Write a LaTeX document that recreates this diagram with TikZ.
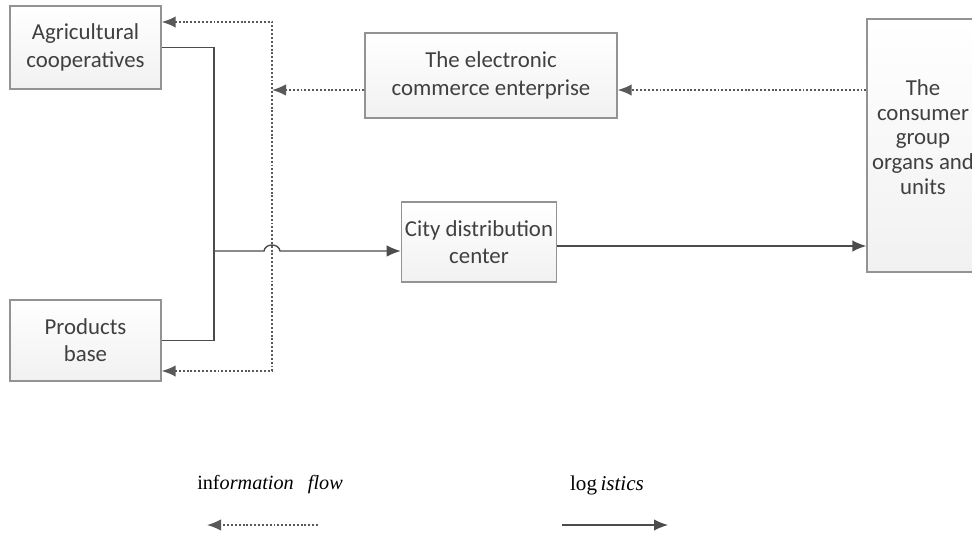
\documentclass[tikz,border=0pt]{standalone}
\usepackage{fontspec}
\setmainfont{Carlito}
\newfontfamily\legendfont{Liberation Serif}
\usepackage{tikz}
\usetikzlibrary{arrows.meta}
\tikzset{box node/.style={draw=gray!85,line width=0.8pt,top color=white,bottom color=gray!11,
            text=black!75,align=center,inner sep=2pt,font=\fontsize{13}{15.5}\selectfont},
         logi/.style={draw=black!70,line width=0.8pt,-{Latex[length=2.8mm,width=2.3mm]}},
         info/.style={draw=black!65,line width=0.9pt,dash pattern=on 1.1pt off 1.1pt,-{Latex[length=2.8mm,width=2.3mm]}},
            }

\begin{document}
\begin{tikzpicture}[x=0.02cm,y=-0.02cm]
    \useasboundingbox (0,0) rectangle (972,535);
    \node[box node,minimum width=3.02cm,minimum height=1.66cm] (agri) at (85.5,47.5) {Agricultural\\cooperatives};
    \node[box node,minimum width=3.02cm,minimum height=1.62cm] (prod) at (85.5,340.5) {Products\\base};
    \node[box node,minimum width=5.04cm,minimum height=1.70cm] (ece) at (491,75.5) {The electronic\\commerce enterprise};
    \node[box node,minimum width=3.08cm,minimum height=1.60cm] (city) at (479,242) {City distribution\\center};
    \node[box node,minimum width=2.24cm,minimum height=5.06cm,
          label={[text=black!75,align=center,font=\fontsize{13}{14}\selectfont,yshift=0.17cm]center:The\\consumer\\group\\organs and\\units}] (cons) at (923,145.5) {};

    \coordinate (jl) at (214,251);
    \coordinate (ie) at (272,90);
    \coordinate (dt) at (272,22);
    \coordinate (db) at (272,371);

    % logistics
    \draw[logi,-] (agri.east) -| (jl);
    \draw[logi,-] (prod.east) -| (jl);
    \draw[logi] (jl) -- (264,251) .. controls (265,243) and (279,243) .. (280,251) -- (city.west |- jl);
    \draw[logi] (city.east |- 0,246) -- (cons.west |- 0,246);

    % information
    \draw[info] (cons.west |- ie) -- (ece.east |- ie);
    \draw[info] (ece.west |- ie) -- (ie);
    \draw[info,{Latex[length=2.8mm,width=2.3mm]}-{Latex[length=2.8mm,width=2.3mm]}] (agri.east |- dt) -- (dt) -- (db) -- (prod.east |- db);

    % legend
    \node[font=\legendfont\fontsize{11.5}{14}\selectfont] (lgi) at (270,485) {inf{\itshape ormation}\hspace{0.7em}{\itshape flow}};
    \node[font=\legendfont\fontsize{12}{14}\selectfont] (lgl) at (607,485) {log\,{\itshape istics}};
    \coordinate (li1) at (318,525);
    \coordinate (li2) at (207,525);
    \coordinate (ll1) at (562,525);
    \coordinate (ll2) at (668,525);
    \draw[info] (li1) -- (li2);
    \draw[logi] (ll1) -- (ll2);
    %%
\end{tikzpicture}
\end{document}
